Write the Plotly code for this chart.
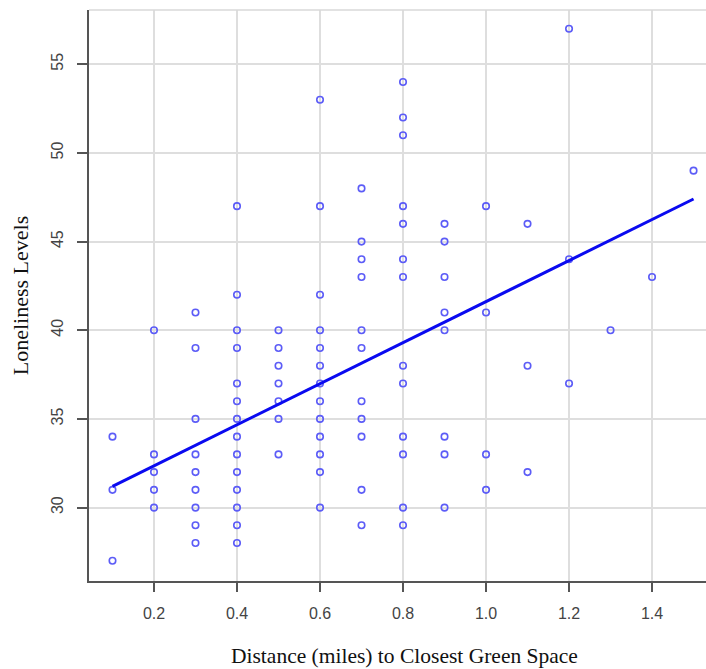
import plotly.graph_objects as go

# Data (distance in miles, loneliness score)
dist_01 = [0.1] * 3
lon_01 = [34, 31, 27]
dist_02 = [0.2] * 5
lon_02 = [40, 33, 32, 31, 30]
dist_03 = [0.3] * 9
lon_03 = [41, 39, 35, 33, 32, 31, 30, 29, 28]
dist_04 = [0.4] * 14
lon_04 = [47, 42, 40, 39, 37, 36, 35, 34, 33, 32, 31, 30, 29, 28]
dist_05 = [0.5] * 7
lon_05 = [40, 39, 38, 37, 36, 35, 33]
dist_06 = [0.6] * 13
lon_06 = [53, 47, 42, 40, 39, 38, 37, 36, 35, 34, 33, 32, 30]
dist_07 = [0.7] * 11
lon_07 = [48, 45, 44, 43, 40, 39, 36, 35, 34, 31, 29]
dist_08 = [0.8] * 13
lon_08 = [54, 52, 51, 47, 46, 44, 43, 38, 37, 34, 33, 30, 29]
dist_09 = [0.9] * 8
lon_09 = [46, 45, 43, 41, 40, 34, 33, 30]
dist_10 = [1.0] * 4
lon_10 = [47, 41, 33, 31]
dist_11 = [1.1] * 3
lon_11 = [46, 38, 32]
dist_12 = [1.2] * 3
lon_12 = [57, 44, 37]
dist_13 = [1.3]
lon_13 = [40]
dist_14 = [1.4]
lon_14 = [43]
dist_15 = [1.5]
lon_15 = [49]

# Fitted regression line (endpoints at x = 0.1 and 1.5)
fit_x = [0.1, 1.5]
fit_y = [31.2, 47.4]

x_ticks = [0.2, 0.4, 0.6, 0.8, 1.0, 1.2, 1.4]
x_tick_labels = ["0.2", "0.4", "0.6", "0.8", "1.0", "1.2", "1.4"]
y_ticks = [30, 35, 40, 45, 50, 55]
y_tick_labels = ["30", "35", "40", "45", "50", "55"]

distance = (dist_01 + dist_02 + dist_03 + dist_04 + dist_05 + dist_06 + dist_07
            + dist_08 + dist_09 + dist_10 + dist_11 + dist_12 + dist_13 + dist_14 + dist_15)
loneliness = (lon_01 + lon_02 + lon_03 + lon_04 + lon_05 + lon_06 + lon_07
              + lon_08 + lon_09 + lon_10 + lon_11 + lon_12 + lon_13 + lon_14 + lon_15)

fig = go.Figure()
fig.add_trace(go.Scatter(
    x=distance, y=loneliness, mode="markers",
    marker=dict(symbol="circle-open", size=6.5, color="#5c5cf7",
                line=dict(width=1.6, color="#5c5cf7")),
    showlegend=False, hoverinfo="x+y", cliponaxis=False,
))
fig.add_trace(go.Scatter(
    x=fit_x, y=fit_y, mode="lines",
    line=dict(color="#0a0af0", width=3),
    showlegend=False,
))

tick_font = dict(family="Liberation Sans Narrow, Arial Narrow, Liberation Sans, Arial",
                 size=16, color="#444444")
title_font = dict(family="Liberation Serif, Times New Roman, serif", size=22, color="#111111")

fig.update_layout(
    width=706, height=669,
    margin=dict(l=89, r=0, t=10, b=88),
    paper_bgcolor="white", plot_bgcolor="white",
    xaxis=dict(
        range=[0.0434, 1.530],
        tickvals=x_ticks, ticktext=x_tick_labels,
        automargin=False,
        showgrid=True, gridcolor="#dedede", gridwidth=1.5,
        zeroline=False,
        showline=True, linecolor="#555555", linewidth=2,
        ticks="outside", ticklen=9, tickwidth=1.5, tickcolor="#555555",
        ticklabelstandoff=8,
        tickfont=tick_font,
    ),
    yaxis=dict(
        range=[25.86, 58.06],
        tickvals=y_ticks, ticktext=y_tick_labels,
        tickangle=-90,
        automargin=False,
        showgrid=True, gridcolor="#dedede", gridwidth=1.5,
        zeroline=False,
        showline=True, linecolor="#555555", linewidth=2,
        ticks="outside", ticklen=10, tickwidth=1.5, tickcolor="#555555",
        ticklabelstandoff=8,
        tickfont=tick_font,
        title=dict(text="Loneliness Levels", font=title_font, standoff=14),
    ),
    annotations=[dict(
        text="Distance (miles) to Closest Green Space",
        xref="paper", yref="paper", x=0.512, y=0, yshift=-75,
        xanchor="center", yanchor="middle", showarrow=False,
        font=dict(family="Liberation Serif, Times New Roman, serif", size=21.5, color="#111111"),
    )],
    shapes=[dict(type="line", xref="paper", yref="paper", x0=0, x1=1, y0=1, y1=1,
                 line=dict(color="#d8d8d8", width=1.5))],
)

fig.write_html(
    "out.html",
    config={"displayModeBar": False},
    post_script="document.body.style.margin='0';document.body.style.overflow='hidden';",
)
